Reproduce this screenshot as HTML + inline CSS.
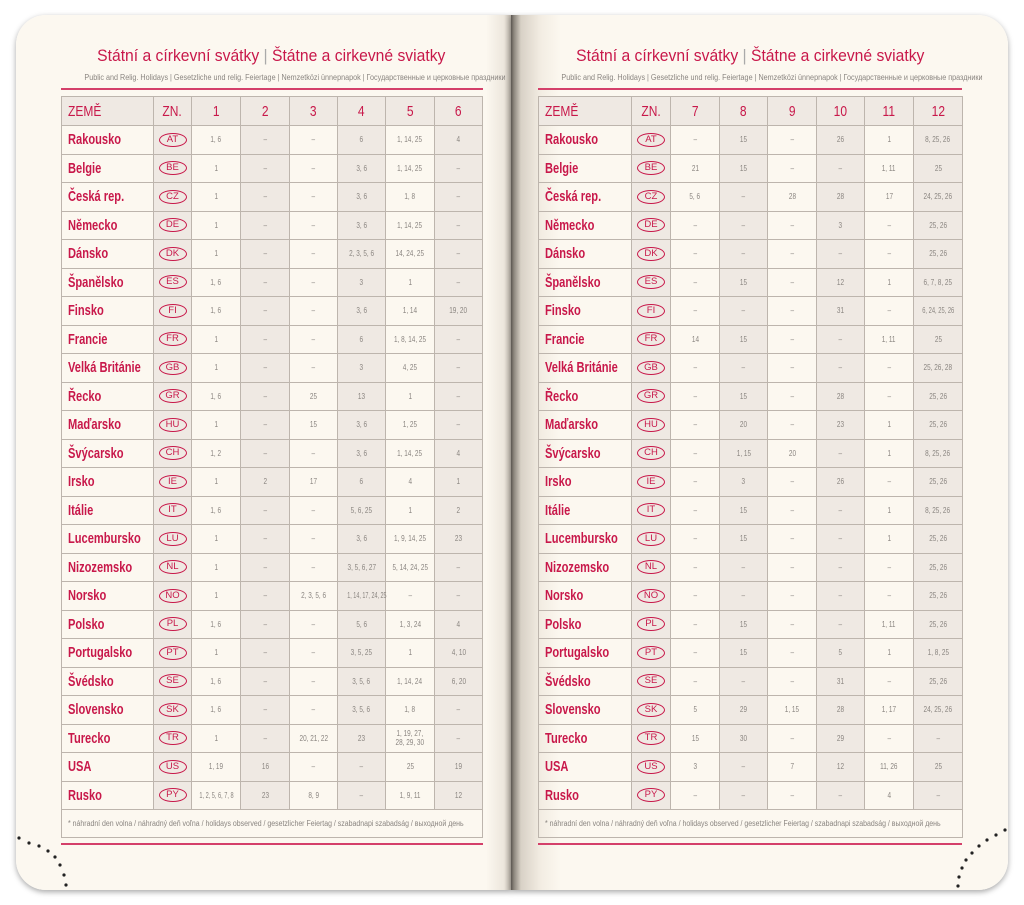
<!DOCTYPE html>
<html><head><meta charset="utf-8">
<style>
body{margin:0;width:1024px;height:905px;background:#fff;position:relative;overflow:hidden;font-family:"Liberation Sans",sans-serif}
.page{position:absolute;top:15px;height:875px;background:#fcf8f0;box-shadow:0 2px 6px rgba(0,0,0,.35)}
#lp{left:16px;width:495px;border-radius:30px 0 0 30px;background:linear-gradient(to right,#fcf8f0 0,#fcf8f0 470px,#ece6dc 488px,#b9b2a8 495px)}
#rp{left:511px;width:497px;border-radius:0 30px 30px 0;background:linear-gradient(to right,#5b5650 0,#8d877e 3px,#d8d1c6 10px,#f3ede3 30px,#fcf8f0 50px)}
.title{position:absolute;color:#c8184a;font-size:16.5px;text-align:center;white-space:nowrap}
.title>div{display:inline-block;transform:scaleX(.95)}
.title span{color:#aaa}
.sub{position:absolute;color:#8a8580;font-size:8px;text-align:center;white-space:nowrap}
.sub>div{display:inline-block;transform:scaleX(.9)}
.rl{position:absolute;height:2px;background:#d4406a}
table{position:absolute;border-collapse:collapse;table-layout:fixed}
td{border:1px solid #bdb5ad;text-align:center;color:#8a8580;font-size:8px;padding:0;height:27.5px;line-height:9px;white-space:nowrap;overflow:visible}
td>i{font-style:normal;display:inline-block;transform:scaleX(.8)}
tr.h td{background:#efe9e3;color:#c8184a;font-size:15px;height:28px}
tr.h td>i{transform:scaleX(.8)}
tr.h td:first-child{text-align:left;padding-left:6px}
tr.h td:first-child>i{transform-origin:left}
td.n{color:#c8184a;font-size:15px;text-align:left;padding-left:6px;font-weight:bold}
td.n>i{transform:scaleX(.74);transform-origin:left}
td.s{background:#efe9e3}
.c{display:inline-block;border:1.3px solid #c8184a;border-radius:50%;color:#c8184a;font-size:9.5px;width:26px;height:12px;line-height:12px}
td.f{text-align:left;padding-left:6px;font-size:8px;height:27px}
td.f>i{transform:scaleX(.87);transform-origin:left}
</style></head><body>
<div class="page" id="lp"></div>
<div class="page" id="rp"></div>

<div class="title" style="left:61px;width:421px;top:47px"><div>Státní a církevní svátky <span>|</span> Štátne a cirkevné sviatky</div></div>
<div class="sub" style="left:61px;width:421px;top:73px"><div>Public and Relig. Holidays | Gesetzliche und relig. Feiertage | Nemzetközi ünnepnapok | Государственные и церковные праздники</div></div>
<div class="rl" style="left:61px;width:422px;top:88px"></div>
<div class="rl" style="left:61px;width:422px;top:843px"></div>

<div class="title" style="left:538px;width:424px;top:47px"><div>Státní a církevní svátky <span>|</span> Štátne a cirkevné sviatky</div></div>
<div class="sub" style="left:538px;width:424px;top:73px"><div>Public and Relig. Holidays | Gesetzliche und relig. Feiertage | Nemzetközi ünnepnapok | Государственные и церковные праздники</div></div>
<div class="rl" style="left:538px;width:424px;top:88px"></div>
<div class="rl" style="left:538px;width:424px;top:843px"></div>

<table style="left:61px;top:96px;width:421px">
<colgroup><col style="width:92px"><col style="width:38px"><col style="width:49px"><col style="width:49px"><col style="width:48px"><col style="width:48px"><col style="width:49px"><col style="width:48px"></colgroup>
<tr class="h"><td><i>ZEMĚ</i></td><td><i>ZN.</i></td><td><i>1</i></td><td><i>2</i></td><td><i>3</i></td><td><i>4</i></td><td><i>5</i></td><td><i>6</i></td></tr>
<tr><td class="n"><i>Rakousko</i></td><td class="s"><span class="c">AT</span></td><td><i>1, 6</i></td><td class="s"><i>–</i></td><td><i>–</i></td><td class="s"><i>6</i></td><td><i>1, 14, 25</i></td><td class="s"><i>4</i></td></tr>
<tr><td class="n"><i>Belgie</i></td><td class="s"><span class="c">BE</span></td><td><i>1</i></td><td class="s"><i>–</i></td><td><i>–</i></td><td class="s"><i>3, 6</i></td><td><i>1, 14, 25</i></td><td class="s"><i>–</i></td></tr>
<tr><td class="n"><i>Česká rep.</i></td><td class="s"><span class="c">CZ</span></td><td><i>1</i></td><td class="s"><i>–</i></td><td><i>–</i></td><td class="s"><i>3, 6</i></td><td><i>1, 8</i></td><td class="s"><i>–</i></td></tr>
<tr><td class="n"><i>Německo</i></td><td class="s"><span class="c">DE</span></td><td><i>1</i></td><td class="s"><i>–</i></td><td><i>–</i></td><td class="s"><i>3, 6</i></td><td><i>1, 14, 25</i></td><td class="s"><i>–</i></td></tr>
<tr><td class="n"><i>Dánsko</i></td><td class="s"><span class="c">DK</span></td><td><i>1</i></td><td class="s"><i>–</i></td><td><i>–</i></td><td class="s"><i>2, 3, 5, 6</i></td><td><i>14, 24, 25</i></td><td class="s"><i>–</i></td></tr>
<tr><td class="n"><i>Španělsko</i></td><td class="s"><span class="c">ES</span></td><td><i>1, 6</i></td><td class="s"><i>–</i></td><td><i>–</i></td><td class="s"><i>3</i></td><td><i>1</i></td><td class="s"><i>–</i></td></tr>
<tr><td class="n"><i>Finsko</i></td><td class="s"><span class="c">FI</span></td><td><i>1, 6</i></td><td class="s"><i>–</i></td><td><i>–</i></td><td class="s"><i>3, 6</i></td><td><i>1, 14</i></td><td class="s"><i>19, 20</i></td></tr>
<tr><td class="n"><i>Francie</i></td><td class="s"><span class="c">FR</span></td><td><i>1</i></td><td class="s"><i>–</i></td><td><i>–</i></td><td class="s"><i>6</i></td><td><i>1, 8, 14, 25</i></td><td class="s"><i>–</i></td></tr>
<tr><td class="n"><i>Velká Británie</i></td><td class="s"><span class="c">GB</span></td><td><i>1</i></td><td class="s"><i>–</i></td><td><i>–</i></td><td class="s"><i>3</i></td><td><i>4, 25</i></td><td class="s"><i>–</i></td></tr>
<tr><td class="n"><i>Řecko</i></td><td class="s"><span class="c">GR</span></td><td><i>1, 6</i></td><td class="s"><i>–</i></td><td><i>25</i></td><td class="s"><i>13</i></td><td><i>1</i></td><td class="s"><i>–</i></td></tr>
<tr><td class="n"><i>Maďarsko</i></td><td class="s"><span class="c">HU</span></td><td><i>1</i></td><td class="s"><i>–</i></td><td><i>15</i></td><td class="s"><i>3, 6</i></td><td><i>1, 25</i></td><td class="s"><i>–</i></td></tr>
<tr><td class="n"><i>Švýcarsko</i></td><td class="s"><span class="c">CH</span></td><td><i>1, 2</i></td><td class="s"><i>–</i></td><td><i>–</i></td><td class="s"><i>3, 6</i></td><td><i>1, 14, 25</i></td><td class="s"><i>4</i></td></tr>
<tr><td class="n"><i>Irsko</i></td><td class="s"><span class="c">IE</span></td><td><i>1</i></td><td class="s"><i>2</i></td><td><i>17</i></td><td class="s"><i>6</i></td><td><i>4</i></td><td class="s"><i>1</i></td></tr>
<tr><td class="n"><i>Itálie</i></td><td class="s"><span class="c">IT</span></td><td><i>1, 6</i></td><td class="s"><i>–</i></td><td><i>–</i></td><td class="s"><i>5, 6, 25</i></td><td><i>1</i></td><td class="s"><i>2</i></td></tr>
<tr><td class="n"><i>Lucembursko</i></td><td class="s"><span class="c">LU</span></td><td><i>1</i></td><td class="s"><i>–</i></td><td><i>–</i></td><td class="s"><i>3, 6</i></td><td><i>1, 9, 14, 25</i></td><td class="s"><i>23</i></td></tr>
<tr><td class="n"><i>Nizozemsko</i></td><td class="s"><span class="c">NL</span></td><td><i>1</i></td><td class="s"><i>–</i></td><td><i>–</i></td><td class="s"><i>3, 5, 6, 27</i></td><td><i>5, 14, 24, 25</i></td><td class="s"><i>–</i></td></tr>
<tr><td class="n"><i>Norsko</i></td><td class="s"><span class="c">NO</span></td><td><i>1</i></td><td class="s"><i>–</i></td><td><i>2, 3, 5, 6</i></td><td class="s"><i style="transform:scaleX(.68)">1, 14, 17, 24, 25</i></td><td><i>–</i></td><td class="s"><i>–</i></td></tr>
<tr><td class="n"><i>Polsko</i></td><td class="s"><span class="c">PL</span></td><td><i>1, 6</i></td><td class="s"><i>–</i></td><td><i>–</i></td><td class="s"><i>5, 6</i></td><td><i>1, 3, 24</i></td><td class="s"><i>4</i></td></tr>
<tr><td class="n"><i>Portugalsko</i></td><td class="s"><span class="c">PT</span></td><td><i>1</i></td><td class="s"><i>–</i></td><td><i>–</i></td><td class="s"><i>3, 5, 25</i></td><td><i>1</i></td><td class="s"><i>4, 10</i></td></tr>
<tr><td class="n"><i>Švédsko</i></td><td class="s"><span class="c">SE</span></td><td><i>1, 6</i></td><td class="s"><i>–</i></td><td><i>–</i></td><td class="s"><i>3, 5, 6</i></td><td><i>1, 14, 24</i></td><td class="s"><i>6, 20</i></td></tr>
<tr><td class="n"><i>Slovensko</i></td><td class="s"><span class="c">SK</span></td><td><i>1, 6</i></td><td class="s"><i>–</i></td><td><i>–</i></td><td class="s"><i>3, 5, 6</i></td><td><i>1, 8</i></td><td class="s"><i>–</i></td></tr>
<tr><td class="n"><i>Turecko</i></td><td class="s"><span class="c">TR</span></td><td><i>1</i></td><td class="s"><i>–</i></td><td><i>20, 21, 22</i></td><td class="s"><i>23</i></td><td><i>1, 19, 27,<br>28, 29, 30</i></td><td class="s"><i>–</i></td></tr>
<tr><td class="n"><i>USA</i></td><td class="s"><span class="c">US</span></td><td><i>1, 19</i></td><td class="s"><i>16</i></td><td><i>–</i></td><td class="s"><i>–</i></td><td><i>25</i></td><td class="s"><i>19</i></td></tr>
<tr><td class="n"><i>Rusko</i></td><td class="s"><span class="c">PY</span></td><td><i style="transform:scaleX(.7)">1, 2, 5, 6, 7, 8</i></td><td class="s"><i>23</i></td><td><i>8, 9</i></td><td class="s"><i>–</i></td><td><i>1, 9, 11</i></td><td class="s"><i>12</i></td></tr>
<tr><td class="f" colspan="8"><i>* náhradní den volna / náhradný deň voľna / holidays observed / gesetzlicher Feiertag / szabadnapi szabadság / выходной день</i></td></tr>
</table>

<table style="left:538px;top:96px;width:424px">
<colgroup><col style="width:93px"><col style="width:39px"><col style="width:49px"><col style="width:48px"><col style="width:49px"><col style="width:48px"><col style="width:49px"><col style="width:49px"></colgroup>
<tr class="h"><td><i>ZEMĚ</i></td><td><i>ZN.</i></td><td><i>7</i></td><td><i>8</i></td><td><i>9</i></td><td><i>10</i></td><td><i>11</i></td><td><i>12</i></td></tr>
<tr><td class="n"><i>Rakousko</i></td><td class="s"><span class="c">AT</span></td><td><i>–</i></td><td class="s"><i>15</i></td><td><i>–</i></td><td class="s"><i>26</i></td><td><i>1</i></td><td class="s"><i>8, 25, 26</i></td></tr>
<tr><td class="n"><i>Belgie</i></td><td class="s"><span class="c">BE</span></td><td><i>21</i></td><td class="s"><i>15</i></td><td><i>–</i></td><td class="s"><i>–</i></td><td><i>1, 11</i></td><td class="s"><i>25</i></td></tr>
<tr><td class="n"><i>Česká rep.</i></td><td class="s"><span class="c">CZ</span></td><td><i>5, 6</i></td><td class="s"><i>–</i></td><td><i>28</i></td><td class="s"><i>28</i></td><td><i>17</i></td><td class="s"><i>24, 25, 26</i></td></tr>
<tr><td class="n"><i>Německo</i></td><td class="s"><span class="c">DE</span></td><td><i>–</i></td><td class="s"><i>–</i></td><td><i>–</i></td><td class="s"><i>3</i></td><td><i>–</i></td><td class="s"><i>25, 26</i></td></tr>
<tr><td class="n"><i>Dánsko</i></td><td class="s"><span class="c">DK</span></td><td><i>–</i></td><td class="s"><i>–</i></td><td><i>–</i></td><td class="s"><i>–</i></td><td><i>–</i></td><td class="s"><i>25, 26</i></td></tr>
<tr><td class="n"><i>Španělsko</i></td><td class="s"><span class="c">ES</span></td><td><i>–</i></td><td class="s"><i>15</i></td><td><i>–</i></td><td class="s"><i>12</i></td><td><i>1</i></td><td class="s"><i>6, 7, 8, 25</i></td></tr>
<tr><td class="n"><i>Finsko</i></td><td class="s"><span class="c">FI</span></td><td><i>–</i></td><td class="s"><i>–</i></td><td><i>–</i></td><td class="s"><i>31</i></td><td><i>–</i></td><td class="s"><i style="transform:scaleX(.72)">6, 24, 25, 26</i></td></tr>
<tr><td class="n"><i>Francie</i></td><td class="s"><span class="c">FR</span></td><td><i>14</i></td><td class="s"><i>15</i></td><td><i>–</i></td><td class="s"><i>–</i></td><td><i>1, 11</i></td><td class="s"><i>25</i></td></tr>
<tr><td class="n"><i>Velká Británie</i></td><td class="s"><span class="c">GB</span></td><td><i>–</i></td><td class="s"><i>–</i></td><td><i>–</i></td><td class="s"><i>–</i></td><td><i>–</i></td><td class="s"><i>25, 26, 28</i></td></tr>
<tr><td class="n"><i>Řecko</i></td><td class="s"><span class="c">GR</span></td><td><i>–</i></td><td class="s"><i>15</i></td><td><i>–</i></td><td class="s"><i>28</i></td><td><i>–</i></td><td class="s"><i>25, 26</i></td></tr>
<tr><td class="n"><i>Maďarsko</i></td><td class="s"><span class="c">HU</span></td><td><i>–</i></td><td class="s"><i>20</i></td><td><i>–</i></td><td class="s"><i>23</i></td><td><i>1</i></td><td class="s"><i>25, 26</i></td></tr>
<tr><td class="n"><i>Švýcarsko</i></td><td class="s"><span class="c">CH</span></td><td><i>–</i></td><td class="s"><i>1, 15</i></td><td><i>20</i></td><td class="s"><i>–</i></td><td><i>1</i></td><td class="s"><i>8, 25, 26</i></td></tr>
<tr><td class="n"><i>Irsko</i></td><td class="s"><span class="c">IE</span></td><td><i>–</i></td><td class="s"><i>3</i></td><td><i>–</i></td><td class="s"><i>26</i></td><td><i>–</i></td><td class="s"><i>25, 26</i></td></tr>
<tr><td class="n"><i>Itálie</i></td><td class="s"><span class="c">IT</span></td><td><i>–</i></td><td class="s"><i>15</i></td><td><i>–</i></td><td class="s"><i>–</i></td><td><i>1</i></td><td class="s"><i>8, 25, 26</i></td></tr>
<tr><td class="n"><i>Lucembursko</i></td><td class="s"><span class="c">LU</span></td><td><i>–</i></td><td class="s"><i>15</i></td><td><i>–</i></td><td class="s"><i>–</i></td><td><i>1</i></td><td class="s"><i>25, 26</i></td></tr>
<tr><td class="n"><i>Nizozemsko</i></td><td class="s"><span class="c">NL</span></td><td><i>–</i></td><td class="s"><i>–</i></td><td><i>–</i></td><td class="s"><i>–</i></td><td><i>–</i></td><td class="s"><i>25, 26</i></td></tr>
<tr><td class="n"><i>Norsko</i></td><td class="s"><span class="c">NO</span></td><td><i>–</i></td><td class="s"><i>–</i></td><td><i>–</i></td><td class="s"><i>–</i></td><td><i>–</i></td><td class="s"><i>25, 26</i></td></tr>
<tr><td class="n"><i>Polsko</i></td><td class="s"><span class="c">PL</span></td><td><i>–</i></td><td class="s"><i>15</i></td><td><i>–</i></td><td class="s"><i>–</i></td><td><i>1, 11</i></td><td class="s"><i>25, 26</i></td></tr>
<tr><td class="n"><i>Portugalsko</i></td><td class="s"><span class="c">PT</span></td><td><i>–</i></td><td class="s"><i>15</i></td><td><i>–</i></td><td class="s"><i>5</i></td><td><i>1</i></td><td class="s"><i>1, 8, 25</i></td></tr>
<tr><td class="n"><i>Švédsko</i></td><td class="s"><span class="c">SE</span></td><td><i>–</i></td><td class="s"><i>–</i></td><td><i>–</i></td><td class="s"><i>31</i></td><td><i>–</i></td><td class="s"><i>25, 26</i></td></tr>
<tr><td class="n"><i>Slovensko</i></td><td class="s"><span class="c">SK</span></td><td><i>5</i></td><td class="s"><i>29</i></td><td><i>1, 15</i></td><td class="s"><i>28</i></td><td><i>1, 17</i></td><td class="s"><i>24, 25, 26</i></td></tr>
<tr><td class="n"><i>Turecko</i></td><td class="s"><span class="c">TR</span></td><td><i>15</i></td><td class="s"><i>30</i></td><td><i>–</i></td><td class="s"><i>29</i></td><td><i>–</i></td><td class="s"><i>–</i></td></tr>
<tr><td class="n"><i>USA</i></td><td class="s"><span class="c">US</span></td><td><i>3</i></td><td class="s"><i>–</i></td><td><i>7</i></td><td class="s"><i>12</i></td><td><i>11, 26</i></td><td class="s"><i>25</i></td></tr>
<tr><td class="n"><i>Rusko</i></td><td class="s"><span class="c">PY</span></td><td><i>–</i></td><td class="s"><i>–</i></td><td><i>–</i></td><td class="s"><i>–</i></td><td><i>4</i></td><td class="s"><i>–</i></td></tr>
<tr><td class="f" colspan="8"><i>* náhradní den volna / náhradný deň voľna / holidays observed / gesetzlicher Feiertag / szabadnapi szabadság / выходной день</i></td></tr>
</table>

<svg style="position:absolute;left:0;top:0" width="1024" height="905">
<g fill="#222">
<circle cx="19" cy="838" r="1.6"/><circle cx="29" cy="843" r="1.6"/><circle cx="39" cy="846" r="1.6"/><circle cx="48" cy="851" r="1.6"/><circle cx="55" cy="857" r="1.6"/><circle cx="60" cy="865" r="1.6"/><circle cx="64" cy="875" r="1.6"/><circle cx="66" cy="885" r="1.6"/>
<circle cx="1005" cy="830" r="1.6"/><circle cx="996" cy="835" r="1.6"/><circle cx="987" cy="840" r="1.6"/><circle cx="979" cy="846" r="1.6"/><circle cx="972" cy="853" r="1.6"/><circle cx="966" cy="860" r="1.6"/><circle cx="962" cy="868" r="1.6"/><circle cx="959" cy="877" r="1.6"/><circle cx="958" cy="886" r="1.6"/>
</g>
</svg>
</body></html>
